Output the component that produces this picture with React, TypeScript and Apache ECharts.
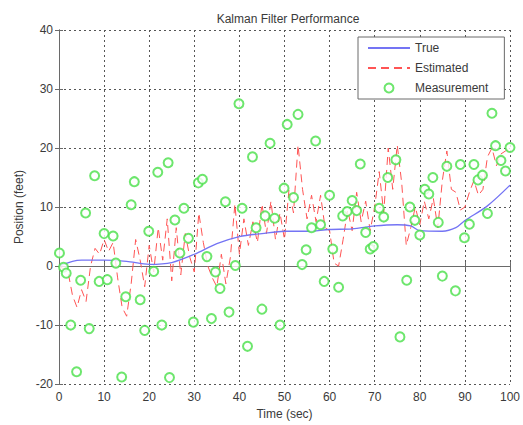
import React, { useEffect, useRef } from "react";
import * as echarts from "echarts";

const titleText = "Kalman Filter Performance";
const xName = "Time (sec)";
const yName = "Position (feet)";
const seriesNames = ["True", "Estimated", "Measurement"];

// True position, read at selected times
const trueTime = [0, 3, 5, 10, 15, 20, 25, 30, 35, 40, 45, 50, 55, 60, 65, 70, 75, 78, 80, 85, 88, 90, 95, 100];
const trueVal = [0, 0.8, 1, 1, 0.8, 0.3, 0.6, 2, 3.8, 5, 5.5, 5.9, 5.9, 6.2, 6.3, 6.8, 7, 6.8, 6, 5.9, 6.5, 7.7, 10.2, 13.7];

// Estimated position, one value per second (t = 0..100)
const estVal = [
  0, -0.5, -1, -5, -7, -4, -6, 0, 3, 2,
  4.5, 2.5, 4, -2, -7, -8.5, -3, 4.5, 1, -3.5,
  3.5, -1, 6.5, 1, 8, -2.5, 6.5, -1.5, 5.5, 1.5,
  -1, 9, 4, 0, -2, -3.5, 2, -3, 1.5, 10.5,
  2, 8, 3.5, 7.5, 4, 10.5, 5.5, 11, 4.5, 9,
  4.5, 13, 9, 20.5, 13, 8, 12, 7.5, 12, 6.5,
  6, 0.5, 0, 4.5, 9.5, 6, 12.5, 7.5, 11, 6,
  10, 16, 9, 20, 13, 20.5, 14, 3.5, 6.5, 10,
  7, 11, 8, 11.5, 6.5, 14.5, 19.5, 13, 12.5, 9.5,
  10, 12.5, 14.5, 12, 13, 18.5, 20, 17, 19, 19.5,
  20,
];

// Measurements (time, position)
const measTime = [
  0.1, 1.0, 1.6, 2.6, 3.9, 4.8, 5.9, 6.7, 7.9, 8.9,
  10.0, 10.7, 12.0, 12.6, 13.9, 14.8, 16.0, 16.7, 18.0, 19.0,
  19.9, 21.0, 21.9, 22.8, 24.2, 24.5, 25.7, 26.8, 27.7, 28.7,
  29.8, 30.9, 31.8, 32.8, 33.8, 34.7, 35.7, 36.9, 37.7, 39.1,
  39.9, 40.6, 41.8, 42.9, 43.7, 45.0, 45.7, 46.8, 47.8, 49.0,
  49.9, 50.6, 52.0, 53.0, 53.9, 54.8, 56.0, 56.9, 58.0, 58.8,
  60.0, 60.7, 62.0, 62.9, 63.9, 65.0, 66.0, 66.8, 68.0, 69.0,
  69.7, 71.0, 72.0, 72.9, 74.7, 75.6, 77.1, 77.8, 78.9, 80.0,
  81.1, 82.0, 82.9, 84.1, 85.0, 86.0, 87.9, 89.0, 89.9, 91.0,
  92.0, 92.9, 93.9, 95.0, 96.0, 96.8, 98.0, 99.0, 100.0,
];
const measVal = [
  2.2, -0.2, -1.2, -10, -17.9, -2.4, 9.0, -10.6, 15.3, -2.6,
  5.5, -2.3, 5.1, 0.5, -18.8, -5.2, 10.4, 14.3, -5.7, -10.9,
  5.9, -0.9, 15.9, -10, 17.5, -18.9, 7.8, 2.2, 9.8, 4.7,
  -9.5, 14.1, 14.7, 1.6, -8.9, -1, -3.8, 10.9, -7.8, 0.1,
  27.5, 9.8, -13.6, 18.5, 6.5, -7.3, 8.5, 20.8, 8.1, -10,
  13.2, 24, 11.6, 25.7, 0.25, 2.75, 6.5, 21.2, 7, -2.6,
  12, 2.9, -3.6, 8.5, 9.25, 11.1, 9.4, 17.3, 5.7, 2.9,
  3.3, 9.8, 8.3, 15, 18, -12, -2.4, 10, 7.75, 5.25,
  13, 12.2, 15, 7.4, -1.7, 16.9, -4.2, 17.2, 4.8, 7.1,
  17.2, 14.6, 15.4, 8.9, 25.9, 20.4, 17.9, 16.1, 20.1,
];

const TEXT = "#3a3a3a";
const FRAME = "#6a6a6a";
const FONT = "Arial, 'Liberation Sans', sans-serif";
const BLUE = "#7474f4";
const RED = "#ff5454";
const GREEN = "#48e048";

export default function App() {
  const ref = useRef<HTMLDivElement>(null);
  useEffect(() => {
    if (!ref.current) return;
    const chart = echarts.init(ref.current, undefined, { renderer: "svg" });
    const axisCommon = {
      type: "value" as const,
      axisLine: { show: true, lineStyle: { color: FRAME, width: 1 } },
      axisTick: { show: true, inside: true, length: 4, lineStyle: { color: FRAME } },
    };
    const gridLine = { show: true, lineStyle: { color: "#555", type: [2, 3] as any, width: 1 } };
    chart.setOption({
      animation: false,
      backgroundColor: "#ffffff",
      textStyle: { fontFamily: FONT },
      title: {
        text: titleText,
        left: 283,
        textAlign: "center",
        top: 8,
        textStyle: { fontSize: 12, fontWeight: "normal", color: TEXT, fontFamily: FONT },
      },
      grid: { left: 59, right: 10, top: 30, bottom: 36, containLabel: false },
      legend: {
        orient: "vertical",
        left: 358,
        top: 37,
        data: [
          { name: seriesNames[0], itemStyle: { opacity: 0 } },
          { name: seriesNames[1], itemStyle: { opacity: 0 } },
          { name: seriesNames[2] },
        ],
        backgroundColor: "#fff",
        borderColor: FRAME,
        borderWidth: 1,
        padding: [5, 16, 5, 9],
        itemWidth: 42,
        itemHeight: 9,
        itemGap: 8,
        textStyle: { fontSize: 12, color: TEXT, fontFamily: FONT },
      },
      xAxis: [
        {
          ...axisCommon,
          min: 0,
          max: 100,
          interval: 10,
          position: "bottom",
          name: xName,
          nameLocation: "middle",
          nameGap: 23,
          nameTextStyle: { fontSize: 12, color: TEXT },
          axisLabel: { fontSize: 12, color: TEXT, margin: 7 },
          splitLine: gridLine,
        },
        {
          ...axisCommon,
          min: 0,
          max: 100,
          interval: 10,
          position: "top",
          axisLabel: { show: false },
          splitLine: { show: false },
        },
      ],
      yAxis: [
        {
          ...axisCommon,
          min: -20,
          max: 40,
          interval: 10,
          position: "left",
          name: yName,
          nameLocation: "middle",
          nameGap: 34,
          nameTextStyle: { fontSize: 12, color: TEXT },
          axisLabel: { fontSize: 12, color: TEXT, margin: 6 },
          splitLine: gridLine,
        },
        {
          ...axisCommon,
          min: -20,
          max: 40,
          interval: 10,
          position: "right",
          axisLabel: { show: false },
          splitLine: { show: false },
        },
      ],
      series: [
        {
          name: seriesNames[0],
          type: "line",
          data: trueTime.map((t, i) => [t, trueVal[i]]),
          symbol: "none",
          smooth: 0.3,
          lineStyle: { color: BLUE, width: 1.3 },
          itemStyle: { color: BLUE },
          z: 3,
        },
        {
          name: seriesNames[1],
          type: "line",
          data: estVal.map((v, i) => [i, v]),
          symbol: "none",
          lineStyle: { color: RED, width: 1, type: [8, 5] },
          itemStyle: { color: RED },
          z: 2,
        },
        {
          name: seriesNames[2],
          type: "scatter",
          data: measTime.map((t, i) => [t, measVal[i]]),
          symbol: "emptyCircle",
          symbolSize: 9,
          itemStyle: { color: GREEN, borderColor: GREEN, borderWidth: 1.3 },
          z: 4,
        },
      ],
    });
    return () => chart.dispose();
  }, []);
  return (
    <div
      ref={ref}
      style={{ position: "fixed", left: 0, top: 0, width: 523, height: 425, background: "#fff" }}
    />
  );
}
